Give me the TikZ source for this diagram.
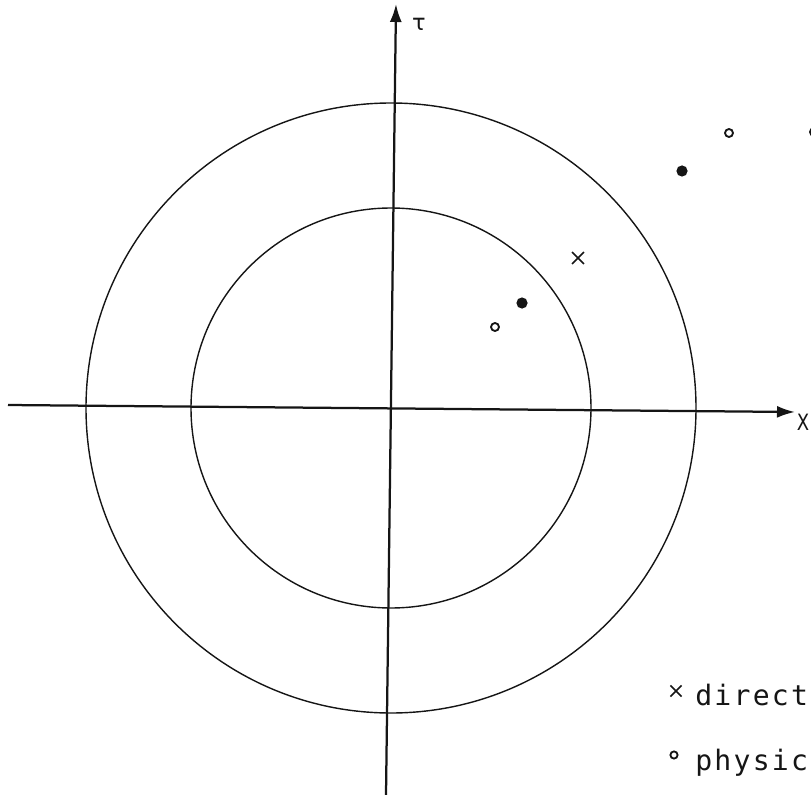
\documentclass[tikz,border=0pt]{standalone}
\usepackage{fontspec}
\usetikzlibrary{arrows.meta,positioning,shapes.misc}
\newfontfamily\legendfont{DejaVu Sans Mono}[LetterSpace=8]
\newfontfamily\axisfont{DejaVu Sans}
\definecolor{ink}{HTML}{151515}

\tikzset{
  axisline/.style={ink,line width=1.6pt,-{Latex[length=0.45cm,width=0.3cm]}},
  ring/.style={ink,line width=1pt},
  fulldot/.style={circle,fill=ink,inner sep=0pt,minimum size=0.28cm},
  opendot/.style={circle,draw=ink,line width=1.3pt,inner sep=0pt,minimum size=0.2cm},
  crossmark/.style={cross out,draw=ink,line width=1.1pt,inner sep=0pt,minimum size=0.26cm},
  axislabel/.style={font=\axisfont\fontsize{16}{16}\selectfont,text=ink,inner sep=0pt},
  legendtext/.style={font=\legendfont\fontsize{20}{20}\selectfont,text=ink,inner sep=0pt}
}

\begin{document}
\begin{tikzpicture}[x=0.025cm,y=-0.025cm]
  \useasboundingbox (0,0) rectangle (811,795);

  % Axes
  \coordinate (O) at (391,408);
  \coordinate (xstart) at (8,405);
  \coordinate (xend) at (795,412);
  \coordinate (tstart) at (386,795);
  \coordinate (tend) at (396,4);
  \draw[axisline] (xstart) -- (xend);
  \draw[axisline] (tstart) -- (tend);
  \node[axislabel,xscale=0.8,transform shape] (xlabel) at (803,422) {X};
  \node[axislabel] (tlabel) at (419,24) {τ};

  % Circles
  \draw[ring] (O) circle (200);
  \draw[ring] (O) circle (305);

  % Points
  \node[crossmark] (c1) at (578,258) {};
  \foreach \x/\y [count=\i] in {522/303,682/171} {
    \node[fulldot] (f\i) at (\x,\y) {};
  }
  \foreach \x/\y [count=\i] in {495/327,729/133,814/132} {
    \node[opendot] (o\i) at (\x,\y) {};
  }

  % Legend
  \node[crossmark,minimum size=0.24cm] (lcross) at (676,691) {};
  \node[legendtext,anchor=base west] (ldirect) at (695,705) {direct};
  \node[opendot,minimum size=0.18cm] (lopen) at (674,755) {};
  \node[legendtext,anchor=base west] (lphysic) at (695,770) {physic};
\end{tikzpicture}
\end{document}
